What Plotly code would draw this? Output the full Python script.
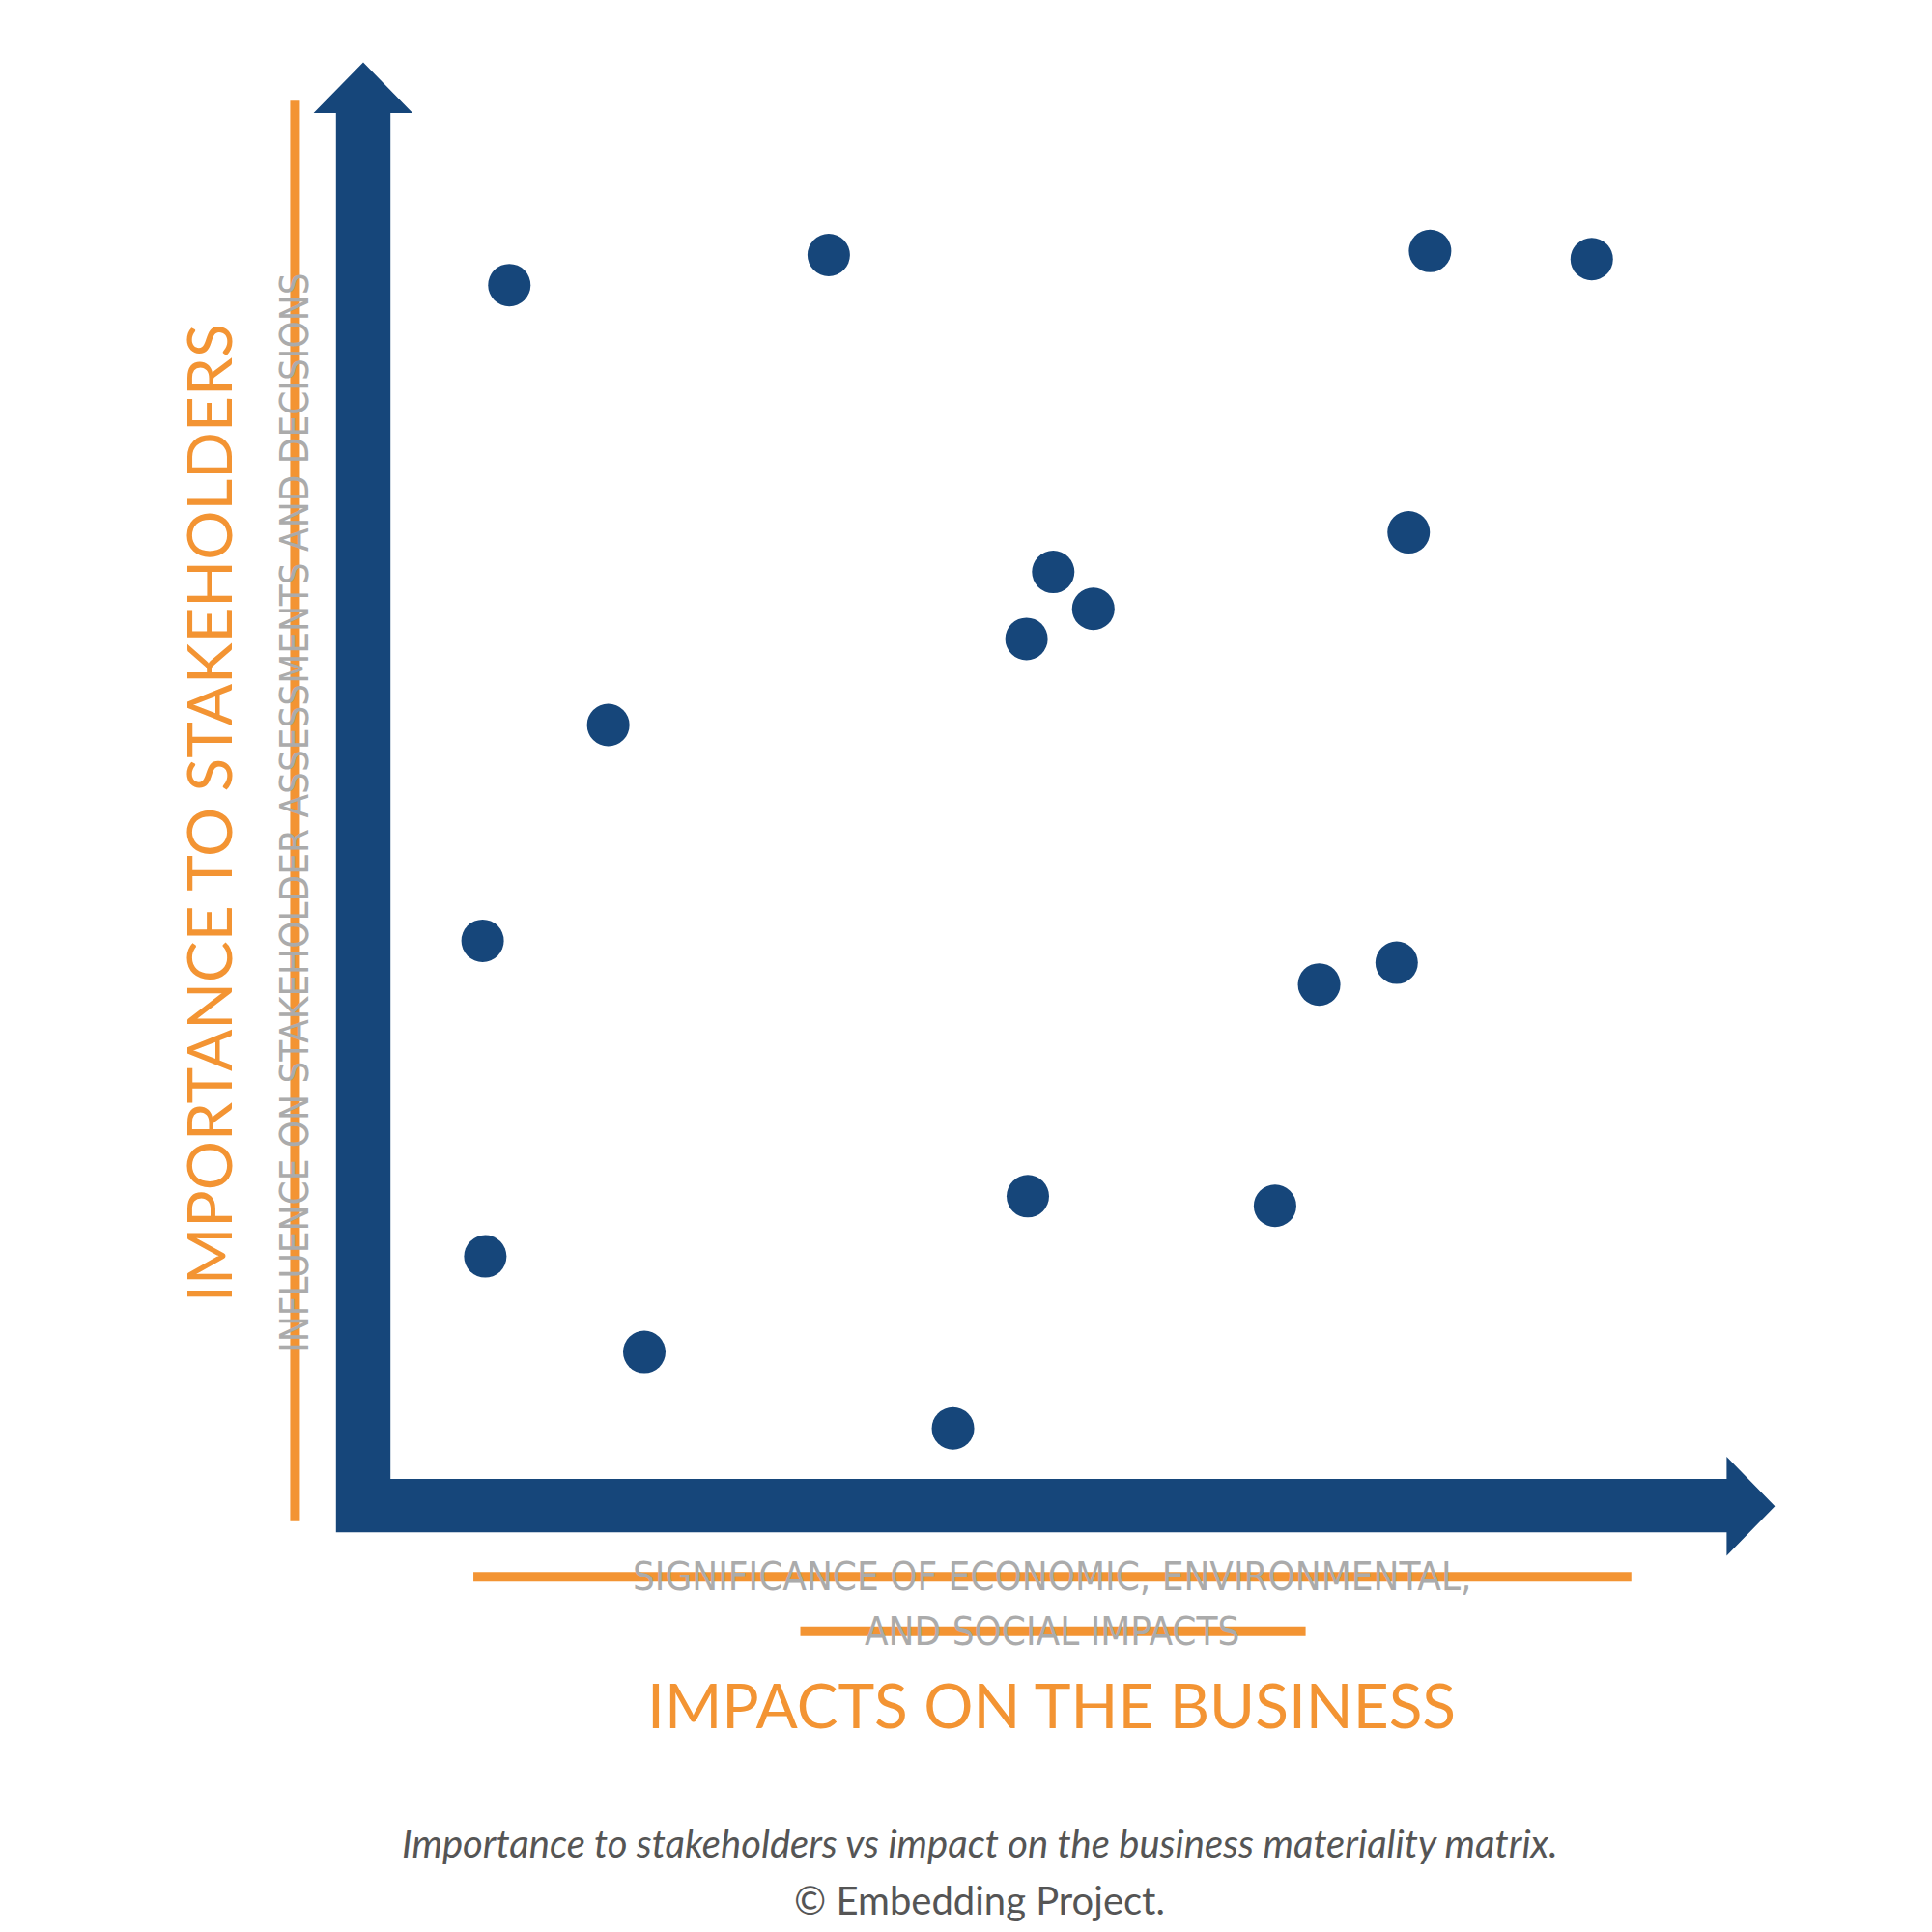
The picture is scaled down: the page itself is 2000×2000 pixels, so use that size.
import plotly.graph_objects as go

# materiality scores (0-10 scale)
impact_business = [0.89, 3.28, 7.78, 8.99, 7.62, 4.96, 5.26, 4.76, 1.63, 0.69, 6.95, 7.53, 4.77, 6.62, 0.71, 1.90, 4.21]
importance_stake = [8.74, 8.96, 8.99, 8.93, 6.93, 6.64, 6.37, 6.15, 5.52, 3.94, 3.62, 3.78, 2.07, 2.00, 1.63, 0.93, 0.37]

NAVY = "#16467A"
ORANGE = "#F39433"
GRAY = "#ABABAB"
S = 1560.0  # design grid


def px(x):
    return x / S


def py(y):
    return 1 - y / S


fig = go.Figure()
fig.add_trace(go.Scatter(
    x=impact_business, y=importance_stake, mode="markers",
    marker=dict(size=44, color=NAVY), hoverinfo="x+y", showlegend=False
))

shapes = []
# vertical arrow
v = [(265, 1231), (265, 85), (247, 85), (287, 44), (327, 85), (309, 85), (309, 1188),
     (1388, 1188), (1388, 1170), (1427, 1210), (1388, 1250), (1388, 1231)]
path = "M " + " L ".join(f"{px(a):.4f},{py(b):.4f}" for a, b in v) + " Z"
shapes.append(dict(type="path", xref="paper", yref="paper", path=path,
                   fillcolor=NAVY, line=dict(width=0), layer="below"))

annotations = [
    dict(x=px(232), y=py(650), text="INFLUENCE ON STAKEHOLDER ASSESSMENTS AND DECISIONS",
         textangle=-90, font=dict(family="DejaVu Sans Condensed", size=40, color=GRAY)),
    dict(x=px(162), y=py(650), text="IMPORTANCE TO STAKEHOLDERS", textangle=-90,
         font=dict(family="Lato", size=64, color=ORANGE)),
    dict(x=px(843), y=py(1267), text="SIGNIFICANCE OF ECONOMIC, ENVIRONMENTAL,",
         font=dict(family="DejaVu Sans Condensed", size=40, color=GRAY)),
    dict(x=px(843), y=py(1311), text="AND SOCIAL IMPACTS",
         font=dict(family="DejaVu Sans Condensed", size=40, color=GRAY)),
    dict(x=px(843), y=py(1370), text="IMPACTS ON THE BUSINESS",
         font=dict(family="Lato", size=64, color=ORANGE)),
    dict(x=px(785), y=py(1482), text="<i>Importance to stakeholders vs impact on the business materiality matrix.</i>",
         font=dict(family="Lato", size=40, color="#555555")),
    dict(x=px(785), y=py(1528), text="© Embedding Project.",
         font=dict(family="Lato", size=40, color="#555555")),
]
for a in annotations:
    a.update(xref="paper", yref="paper", showarrow=False, xanchor="center", yanchor="middle")

# orange strike lines drawn over the grey text
for x0, y0, x1, y1 in [(232, 75, 232, 1222), (376, 1267, 1311, 1267), (640, 1311, 1048, 1311)]:
    shapes.append(dict(type="line", xref="paper", yref="paper",
                       x0=px(x0), y0=py(y0), x1=px(x1), y1=py(y1),
                       line=dict(color=ORANGE, width=10), layer="above"))

ux, uy = 107.9, 110.3
fig.update_layout(
    width=2000, height=2000, margin=dict(l=0, r=0, t=0, b=0),
    plot_bgcolor="white", paper_bgcolor="white",
    xaxis=dict(range=[-309 / ux, (S - 309) / ux], visible=False, fixedrange=True),
    yaxis=dict(range=[(1188 - S) / uy, 1188 / uy], visible=False, fixedrange=True),
    shapes=shapes, annotations=annotations,
)
fig.write_html("out.html")
